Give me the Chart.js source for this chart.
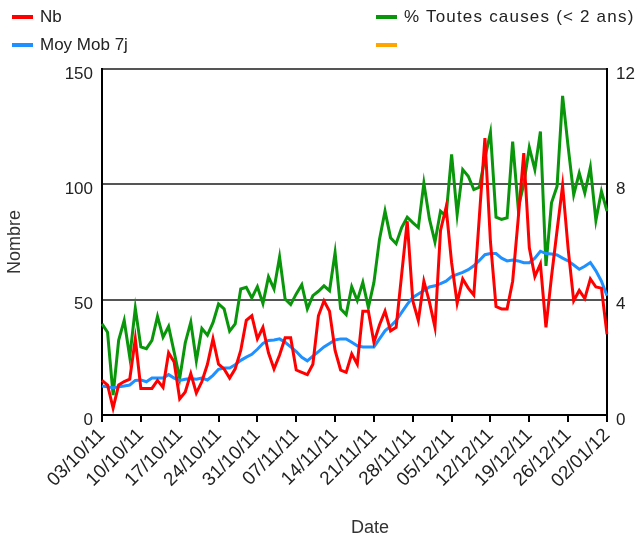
<!DOCTYPE html>
<html>
<head>
<meta charset="utf-8">
<script src="https://cdn.jsdelivr.net/npm/chart.js@4.4.1/dist/chart.umd.min.js"></script>
<style>
  html, body { margin: 0; padding: 0; background: #fff; }
  #wrap { position: relative; width: 642px; height: 537px; }
  .leg { position: absolute; font-family: 'Liberation Sans', Arial, sans-serif; font-size: 17px; color: #222; white-space: nowrap; line-height: 20px; }
  .leg i { display: inline-block; width: 21px; height: 4px; vertical-align: middle; margin-right: 7px; position: relative; top: -1px; }
  .xtitle { position: absolute; left: 330px; width: 80px; top: 517px; text-align: center; font-family: 'Liberation Sans', Arial, sans-serif; font-size: 18px; color: #333; line-height: 20px; }
</style>
</head>
<body>
<div id="wrap">
  <canvas id="c" width="642" height="537"></canvas>
  <div class="leg" style="left:12px; top:7px;"><i style="background:#ff0000"></i>Nb</div>
  <div class="leg" style="left:12px; top:35px;"><i style="background:#1e90ff"></i>Moy Mob 7j</div>
  <div class="leg" style="left:376px; top:7px; letter-spacing:1.2px;"><i style="background:#0a960a"></i>% Toutes causes (&lt; 2 ans)</div>
  <div class="leg" style="left:376px; top:35px;"><i style="background:#ffa500"></i></div>
  <div class="xtitle">Date</div>
</div>
<script>
// jours du 03/10/11 au 02/01/12
const dates = [
  '03/10/11','04/10/11','05/10/11','06/10/11','07/10/11','08/10/11','09/10/11','10/10/11','11/10/11','12/10/11',
  '13/10/11','14/10/11','15/10/11','16/10/11','17/10/11','18/10/11','19/10/11','20/10/11','21/10/11','22/10/11',
  '23/10/11','24/10/11','25/10/11','26/10/11','27/10/11','28/10/11','29/10/11','30/10/11','31/10/11',
  '01/11/11','02/11/11','03/11/11','04/11/11','05/11/11','06/11/11','07/11/11','08/11/11','09/11/11','10/11/11',
  '11/11/11','12/11/11','13/11/11','14/11/11','15/11/11','16/11/11','17/11/11','18/11/11','19/11/11','20/11/11',
  '21/11/11','22/11/11','23/11/11','24/11/11','25/11/11','26/11/11','27/11/11','28/11/11','29/11/11','30/11/11',
  '01/12/11','02/12/11','03/12/11','04/12/11','05/12/11','06/12/11','07/12/11','08/12/11','09/12/11','10/12/11',
  '11/12/11','12/12/11','13/12/11','14/12/11','15/12/11','16/12/11','17/12/11','18/12/11','19/12/11','20/12/11',
  '21/12/11','22/12/11','23/12/11','24/12/11','25/12/11','26/12/11','27/12/11','28/12/11','29/12/11','30/12/11',
  '31/12/11','01/01/12','02/01/12'
];

const tickLabels = ['03/10/11','10/10/11','17/10/11','24/10/11','31/10/11','07/11/11','14/11/11',
  '21/11/11','28/11/11','05/12/11','12/12/11','19/12/11','26/12/11','02/01/12'];

const nb = [
  15, 13, 3, 13, 14.5, 15.5, 33, 11.5, 11.5, 11.5,
  15, 12, 27, 23, 7, 10, 18, 9.5, 14.5, 22,
  33, 22, 20, 16, 20, 28, 41, 43, 33, 38,
  27, 20, 26, 33.5, 33.5, 19.5, 18.5, 17.5, 22, 43,
  49.5, 45, 28, 19.5, 18.5, 26.5, 22, 45, 45, 31.5,
  39, 45, 36.5, 38, 61, 84, 49.5, 41, 58, 49,
  38, 80, 90, 66, 48.5, 59, 55, 52, 86, 120,
  75, 47, 46, 46, 58, 85, 113.5, 72.5, 60, 65.5,
  38, 60, 80, 99.5, 72, 49.5, 54, 50.5, 59, 55.5,
  55, 35
];

const moyMob7j = [
  12.6, 12.2, 11.8, 12.2, 12.6, 13, 15, 15.2, 14.4, 16,
  16, 16, 17.5, 16, 15, 15.5, 15.8, 15.5, 16, 15.2,
  17.2, 19.8, 20.4, 20.4, 21.8, 23.7, 25.1, 26.3, 28.5, 31,
  32.3, 32.5, 33, 31.5, 29.5, 27.5, 25, 23.5, 25.5, 27.5,
  29.5, 31, 32.5, 33, 33, 31.5, 30, 29.5, 29.5, 29.5,
  33, 36.5, 38.5, 41, 44.5, 48, 51, 52.5, 54, 55.5,
  56, 57, 58, 60, 61, 61.8, 63, 64.7, 67, 69.5,
  70, 70, 68, 66.8, 67.2, 66.8, 66, 66, 68, 71,
  70, 69.8, 69.4, 68, 66.8, 65, 63.2, 64.5, 66.1, 62.5,
  58, 51.7
];

// % Toutes causes (< 2 ans), axe de droite
const pctToutesCauses = [
  3.16, 2.87, 0.69, 2.59, 3.28, 2.01, 3.7, 2.36, 2.3, 2.59,
  3.42, 2.7, 3.07, 2.18, 1.27, 2.5, 3.22, 1.88, 3.0, 2.77,
  3.2, 3.85, 3.68, 2.91, 3.16, 4.37, 4.43, 4.06, 4.45, 3.87,
  4.79, 4.37, 5.48, 4.02, 3.83, 4.2, 4.52, 3.68, 4.14, 4.29,
  4.48, 4.31, 5.63, 3.68, 3.48, 4.45, 3.97, 4.6, 3.73, 4.6,
  6.09, 7.07, 6.15, 5.94, 6.5, 6.86, 6.67, 6.5, 8.04, 6.8,
  6.0, 7.07, 6.9, 9.04, 6.95, 8.51, 8.28, 7.82, 7.9, 8.91,
  9.8, 6.86, 6.78, 6.84, 9.48, 7.18, 8.0, 9.28, 8.51, 9.83,
  5.17, 7.36, 7.93, 11.07, 9.3, 7.64, 8.39, 7.7, 8.59, 6.75,
  7.76, 7.07
];

const leftTicks = [0, 50, 100, 150];
const rightTicks = [0, 4, 8, 12];

const FONT = { family: "'Liberation Sans', Arial, sans-serif", size: 19 };
const NARROW = { family: "'Liberation Sans Narrow', 'Arial Narrow', 'Liberation Sans', sans-serif", size: 17 };

function lineSet(label, data, color, axis) {
  return {
    label, data, yAxisID: axis,
    borderColor: color, backgroundColor: color,
    borderWidth: 3, pointRadius: 0, tension: 0, fill: false
  };
}

new Chart(document.getElementById('c'), {
  type: 'line',
  data: {
    labels: dates,
    datasets: [
      lineSet('Nb', nb, '#ff0000', 'y'),
      lineSet('Moy Mob 7j', moyMob7j, '#1e90ff', 'y'),
      lineSet('% Toutes causes (< 2 ans)', pctToutesCauses, '#0a960a', 'y2'),
      lineSet('', [], '#ffa500', 'y2')
    ]
  },
  options: {
    responsive: false, animation: false,
    layout: { padding: { top: 69, left: 0, right: 0, bottom: 0 } },
    plugins: { legend: { display: false }, tooltip: { enabled: false } },
    scales: {
      x: {
        border: { color: '#000', width: 2 },
        grid: { drawOnChartArea: false, color: '#000', lineWidth: 2, tickLength: 7 },
        ticks: {
          autoSkip: false, maxRotation: 45, minRotation: 45, color: '#222', font: FONT, padding: 2,
          callback: function (v) { const l = this.getLabelForValue(v); return tickLabels.includes(l) ? l : null; }
        },
        afterFit: s => { s.height = 122; }
      },
      y: {
        position: 'left', min: 0, max: 150,
        border: { color: '#000', width: 2 },
        grid: { color: '#555', lineWidth: 2, drawTicks: false },
        afterBuildTicks: s => { s.ticks = leftTicks.map(v => ({ value: v })); },
        ticks: { color: '#222', font: NARROW, padding: 9, labelOffset: 5 },
        title: { display: true, text: 'Nombre', color: '#333', font: { ...FONT, size: 18 }, padding: { top: 4, bottom: 0 } },
        afterFit: s => { s.width = 102; }
      },
      y2: {
        position: 'right', min: 0, max: 12,
        border: { color: '#000', width: 2 },
        grid: { drawOnChartArea: false, drawTicks: false },
        afterBuildTicks: s => { s.ticks = rightTicks.map(v => ({ value: v })); },
        ticks: { color: '#222', font: NARROW, padding: 9, labelOffset: 5 },
        afterFit: s => { s.width = 35; }
      }
    }
  }
});
</script>
</body>
</html>
